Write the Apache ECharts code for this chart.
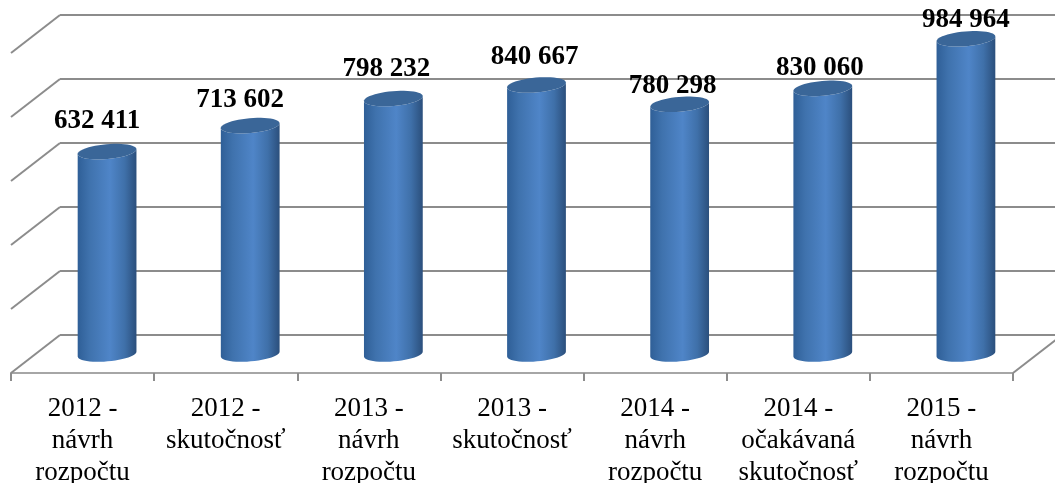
<!DOCTYPE html>
<html>
<head>
<meta charset="utf-8"/>
<title>Rozpočet</title>
<script src="https://cdn.jsdelivr.net/npm/echarts@6/dist/echarts.min.js"></script>
<style>
    html, body { margin: 0; padding: 0; background: #fff; }
    #chart { width: 1055px; height: 483px; }
</style>
</head>
<body>
<div id="chart"></div>
<script>
// data
var categories = [
    '2012 -\nnávrh\nrozpočtu',
    '2012 -\nskutočnosť',
    '2013 -\nnávrh\nrozpočtu',
    '2013 -\nskutočnosť',
    '2014 -\nnávrh\nrozpočtu',
    '2014 -\nočakávaná\nskutočnosť',
    '2015 -\nnávrh\nrozpočtu'
];
var values = [632411, 713602, 798232, 840667, 780298, 830060, 984964];
var gridValues = [0, 200000, 400000, 600000, 800000, 1000000];

// 3d look: how far the back wall sits from the front plane
var depthX = 49, depthY = -38;
var rx = 29.5, ry = 7.4, tilt = 5 * Math.PI / 180;
// label nudges, the original labels were not centred on the bars
var labelNudgeX = [-10, -10, -7, -2, -7, -3, 0];
var labelNudgeY = [-31, -26, -30, -28, -18, -20, -19];

var serif = '"Liberation Serif", "Times New Roman", serif';

function fmt(v) {
    return String(v).replace(/\B(?=(\d{3})+$)/g, ' ');
}

// point on the tilted ellipse around cx, cy
function ellipsePoint(cx, cy, a) {
    var ex = rx * Math.cos(a), ey = ry * Math.sin(a);
    return [cx + ex * Math.cos(tilt) + ey * Math.sin(tilt),
            cy - ex * Math.sin(tilt) + ey * Math.cos(tilt)];
}

function renderCylinder(params, api) {
    var i = api.value(0);
    var top = api.coord([i, api.value(1)]);
    var base = api.coord([i, 0]);
    var cx = top[0] + depthX / 2;
    var topY = top[1] + depthY / 2;
    var baseY = base[1] + depthY / 2;

    // body outline: lower half of the base, then back over the top edge
    var pts = [], k;
    for (k = 0; k <= 24; k++) pts.push(ellipsePoint(cx, baseY, Math.PI * k / 24));
    for (k = 24; k >= 0; k--) pts.push(ellipsePoint(cx, topY, Math.PI * k / 24));
    var capPts = [];
    for (k = 0; k < 48; k++) capPts.push(ellipsePoint(cx, topY, Math.PI * 2 * k / 48));

    return {
        type: 'group',
        children: [{
            type: 'polygon',
            shape: { points: pts },
            style: {
                fill: new echarts.graphic.LinearGradient(0, 0, 1, 0, [
                    { offset: 0, color: '#2f5f97' },
                    { offset: 0.2, color: '#3f72ad' },
                    { offset: 0.55, color: '#4f85c8' },
                    { offset: 0.8, color: '#3f70a9' },
                    { offset: 1, color: '#2b4f7c' }
                ])
            }
        }, {
            type: 'polygon',
            shape: { points: capPts },
            style: { fill: '#3a6698' }
        }, {
            type: 'text',
            x: cx + labelNudgeX[i],
            y: topY + labelNudgeY[i],
            z2: 10,
            style: {
                text: fmt(api.value(1)),
                font: 'bold 27px ' + serif,
                fill: '#000',
                align: 'center',
                verticalAlign: 'middle'
            }
        }]
    };
}

// side wall lines, going from the back wall towards the viewer
function renderWall(params, api) {
    var p = api.coord([api.value(0), api.value(1)]);
    return {
        type: 'line',
        shape: { x1: p[0], y1: p[1], x2: p[0] - depthX, y2: p[1] - depthY },
        style: { stroke: '#8c8c8c', lineWidth: 2 }
    };
}

var wallData = gridValues.map(function (v) { return [0, v]; });
wallData.push([7, 0]);

var myChart = echarts.init(document.getElementById('chart'));
myChart.setOption({
    animation: false,
    backgroundColor: '#fff',
    grid: [
        // back wall
        { left: 60, top: 15, width: 1002, height: 320, outerBoundsMode: 'none' },
        // front plane
        { left: 11, top: 53, width: 1002, height: 320, outerBoundsMode: 'none' }
    ],
    xAxis: [{
        gridIndex: 0, type: 'value', min: 0, max: 7, show: false
    }, {
        gridIndex: 1,
        type: 'category',
        data: categories,
        axisLine: { show: true, lineStyle: { color: '#a6a6a6', width: 2 } },
        axisTick: { show: true, length: 8, alignWithLabel: false, lineStyle: { color: '#8c8c8c', width: 2 } },
        axisLabel: {
            interval: 0,
            margin: 20,
            color: '#000',
            fontFamily: serif,
            fontSize: 27,
            lineHeight: 32
        }
    }],
    yAxis: [{
        gridIndex: 0,
        type: 'value',
        min: 0,
        max: 1000000,
        interval: 200000,
        axisLine: { show: false },
        axisTick: { show: false },
        axisLabel: { show: false },
        splitLine: { lineStyle: { color: '#8c8c8c', width: 2 } }
    }, {
        gridIndex: 1,
        type: 'value',
        min: 0,
        max: 1000000,
        interval: 200000,
        show: false,
        splitLine: { show: false }
    }],
    series: [{
        type: 'custom',
        xAxisIndex: 0,
        yAxisIndex: 0,
        renderItem: renderWall,
        silent: true,
        data: wallData
    }, {
        type: 'custom',
        xAxisIndex: 1,
        yAxisIndex: 1,
        renderItem: renderCylinder,
        encode: { x: 0, y: 1 },
        data: values.map(function (v, i) { return [i, v]; })
    }]
});
</script>
</body>
</html>
